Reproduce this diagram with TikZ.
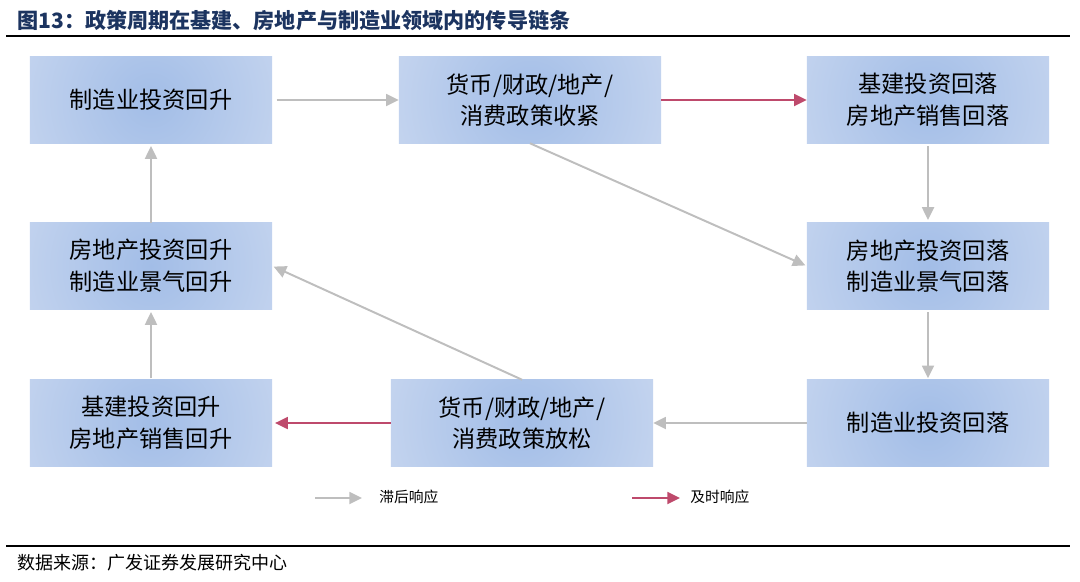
\documentclass[tikz,border=0pt]{standalone}
\usepackage{fontspec}
\newfontfamily\cjk{Noto Sans CJK SC}
\setmainfont{Noto Sans CJK SC}
\usepackage{tikz}
\usetikzlibrary{arrows.meta,positioning}
\definecolor{boxinner}{RGB}{162,189,231}
\definecolor{boxouter}{RGB}{224,231,245}
\definecolor{laggray}{RGB}{190,190,190}
\definecolor{fastred}{RGB}{190,74,108}
\definecolor{titleblue}{RGB}{28,52,96}
\pgfdeclareradialshading{boxshade}{\pgfpoint{0bp}{0bp}}{color(0bp)=(boxinner); color(46bp)=(boxouter); color(100bp)=(boxouter)}
\begin{document}
\begin{tikzpicture}[x=0.025cm,y=-0.025cm,
  box/.style={fill=boxouter,minimum width=6.05cm,minimum height=2.15cm,inner sep=0pt,
    align=center,font=\cjk\fontsize{16.5}{22.5}\selectfont,
    path picture={\shade[shading=boxshade] (path picture bounding box.center) circle (3.5cm);}},
  widebox/.style={box,minimum width=6.55cm},
  lag/.style={draw=laggray,line width=1.4pt,-{Triangle[length=9pt,width=8.5pt]}},
  fast/.style={draw=fastred,line width=1.4pt,-{Triangle[length=9pt,width=8.5pt]}}]

  \useasboundingbox (0,0) rectangle (1080,581);

  % Title and rules
  \node[anchor=west,inner sep=0pt,text=titleblue,font=\cjk\bfseries\fontsize{15}{17}\selectfont] (title) at (17,21) {图13：政策周期在基建、房地产与制造业领域内的传导链条};
  \draw[line width=0.9pt] (6,36) -- (1070,36);
  \draw[line width=0.9pt] (6,546) -- (1070,546);
  \node[anchor=west,inner sep=0pt,font=\cjk\fontsize{12.8}{14}\selectfont] (source) at (17,563) {数据来源：广发证券发展研究中心};

  % The boxes
  \node[box] (mfgup)         at (151,100) {制造业投资回升};
  \node[widebox] (tighten)   at (530,100) {货币/财政/地产/\\消费政策收紧};
  \node[box] (infradown)     at (928,100) {基建投资回落\\房地产销售回落};
  \node[box] (realdown)      at (928,266) {房地产投资回落\\制造业景气回落};
  \node[box] (mfgdown)       at (928,423) {制造业投资回落};
  \node[widebox] (ease)      at (522,423) {货币/财政/地产/\\消费政策放松};
  \node[box] (infraup)       at (151,423) {基建投资回升\\房地产销售回升};
  \node[box] (realup)        at (151,266) {房地产投资回升\\制造业景气回升};

  % The chain
  \draw[lag,shorten <=3pt] (mfgup) -- (tighten);
  \draw[fast] (tighten) -- (infradown);
  \draw[lag,shorten <=2pt,shorten >=2pt] (infradown) -- (realdown);
  \draw[lag,shorten >=1pt] (tighten.south) -- (realdown.west);
  \draw[lag,shorten <=2pt,shorten >=1pt] (realdown) -- (mfgdown);
  \draw[lag] (mfgdown) -- (ease);
  \draw[lag,shorten >=1pt] (ease.north) -- (realup.east);
  \draw[fast,shorten >=2pt] (ease) -- (infraup);
  \draw[lag,shorten <=1pt,shorten >=2pt] (infraup) -- (realup);
  \draw[lag,shorten >=2pt] (realup) -- (mfgup);

  % Legend
  \coordinate (lagA) at (315,498);
  \coordinate (lagB) at (362,498);
  \coordinate (fastA) at (632,498);
  \coordinate (fastB) at (680,498);
  \draw[lag] (lagA) -- (lagB);
  \draw[fast] (fastA) -- (fastB);
  \node[anchor=west,inner sep=0pt,font=\cjk\fontsize{10.5}{12}\selectfont] (lagtxt) at (379,497) {滞后响应};
  \node[anchor=west,inner sep=0pt,font=\cjk\fontsize{10.5}{12}\selectfont] (fasttxt) at (690,497) {及时响应};

\end{tikzpicture}
\end{document}
